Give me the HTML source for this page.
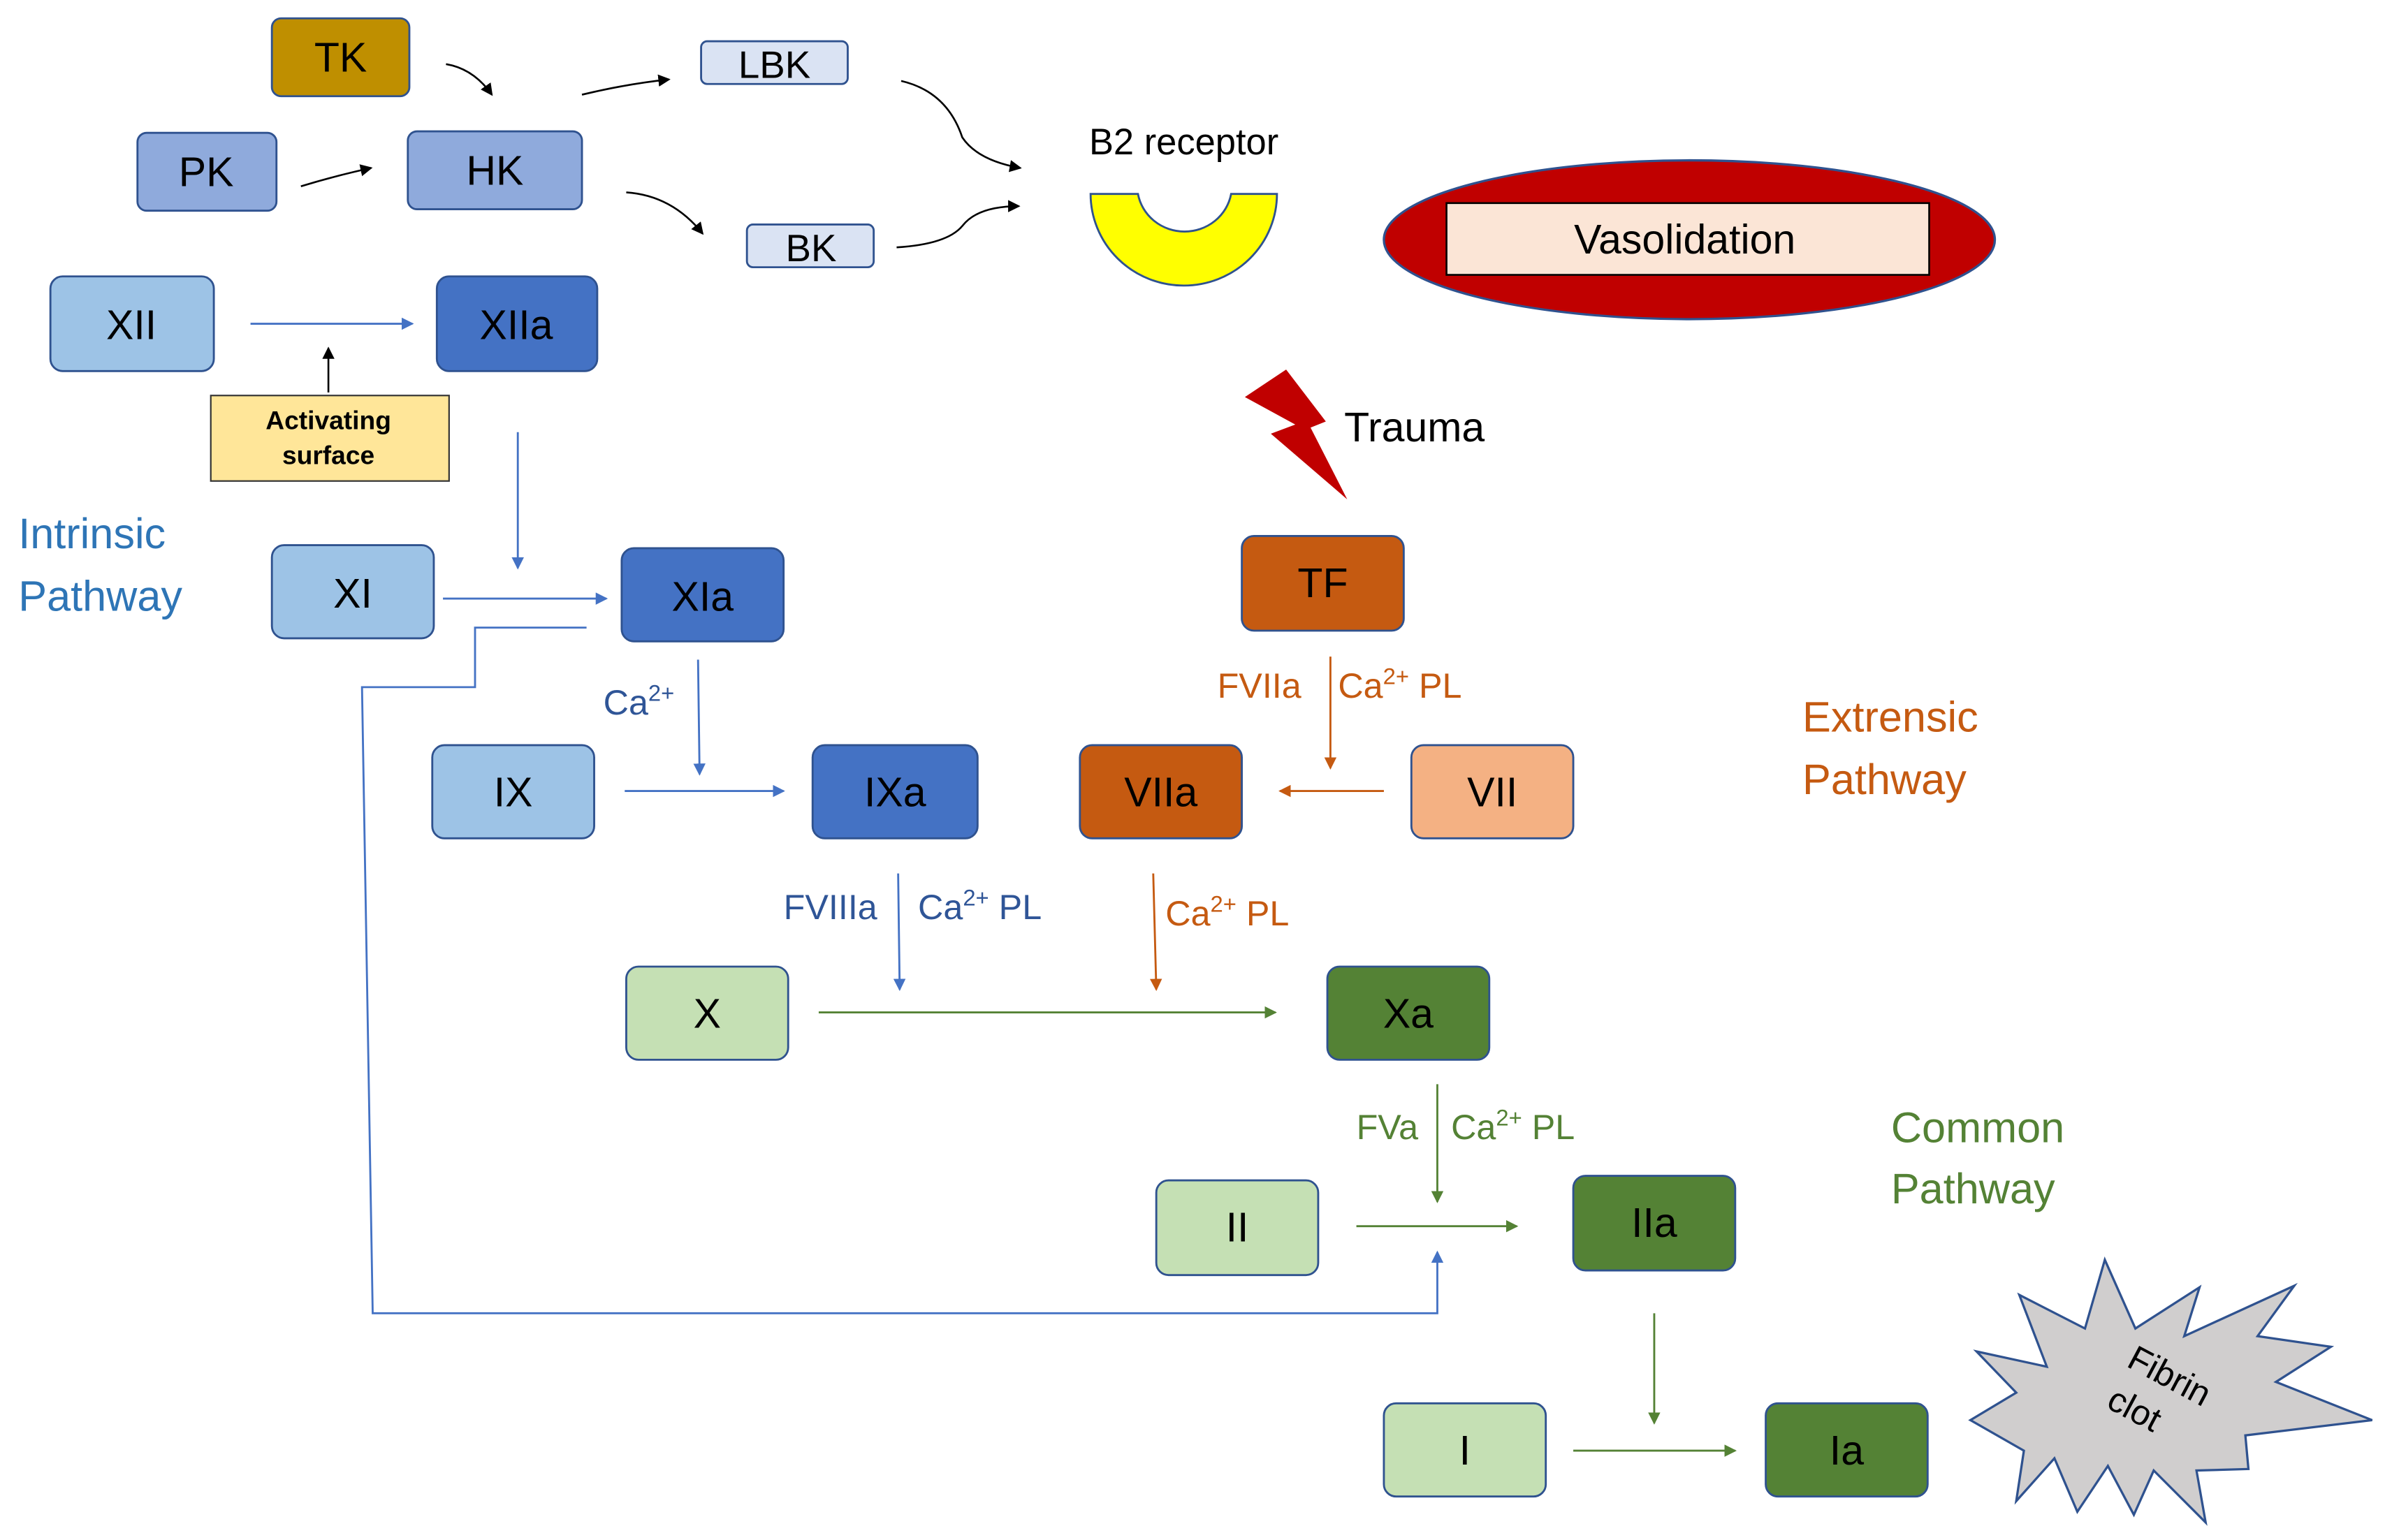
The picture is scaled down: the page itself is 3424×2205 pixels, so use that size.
<!DOCTYPE html>
<html><head><meta charset="utf-8"><style>html,body{margin:0;padding:0;background:#fff}svg{display:block}</style></head>
<body>
<svg width="3424" height="2205" viewBox="0 0 1566 1008.5" preserveAspectRatio="none" xmlns="http://www.w3.org/2000/svg" font-family="Liberation Sans, sans-serif">
<defs>
<marker id="ab" markerWidth="8" markerHeight="8" refX="7" refY="4" orient="auto" markerUnits="userSpaceOnUse"><path d="M0,0L8,4L0,8z" fill="#4472C4"/></marker>
<marker id="ak" markerWidth="8" markerHeight="8" refX="7" refY="4" orient="auto" markerUnits="userSpaceOnUse"><path d="M0,0L8,4L0,8z" fill="#000"/></marker>
<marker id="ao" markerWidth="8" markerHeight="8" refX="7" refY="4" orient="auto" markerUnits="userSpaceOnUse"><path d="M0,0L8,4L0,8z" fill="#C55A11"/></marker>
<marker id="ag" markerWidth="8" markerHeight="8" refX="7" refY="4" orient="auto" markerUnits="userSpaceOnUse"><path d="M0,0L8,4L0,8z" fill="#548235"/></marker>
</defs>
<g stroke="#2F528F" stroke-width="1.3">
<rect x="178" y="12" width="90" height="51" rx="6" fill="#BF8F00"/>
<rect x="90" y="87" width="91" height="51" rx="6" fill="#8FAADC"/>
<rect x="267" y="86" width="114" height="51" rx="6" fill="#8FAADC"/>
<rect x="459" y="27" width="96" height="28" rx="4" fill="#DAE3F3"/>
<rect x="489" y="147" width="83" height="28" rx="4" fill="#DAE3F3"/>
<rect x="33" y="181" width="107" height="62" rx="8" fill="#9DC3E6"/>
<rect x="286" y="181" width="105" height="62" rx="8" fill="#4472C4"/>
<rect x="178" y="357" width="106" height="61" rx="8" fill="#9DC3E6"/>
<rect x="407" y="359" width="106" height="61" rx="8" fill="#4472C4"/>
<rect x="283" y="488" width="106" height="61" rx="8" fill="#9DC3E6"/>
<rect x="532" y="488" width="108" height="61" rx="8" fill="#4472C4"/>
<rect x="813" y="351" width="106" height="62" rx="8" fill="#C55A11"/>
<rect x="707" y="488" width="106" height="61" rx="8" fill="#C55A11"/>
<rect x="924" y="488" width="106" height="61" rx="8" fill="#F4B183"/>
<rect x="410" y="633" width="106" height="61" rx="8" fill="#C5E0B4"/>
<rect x="869" y="633" width="106" height="61" rx="8" fill="#548235"/>
<rect x="757" y="773" width="106" height="62" rx="8" fill="#C5E0B4"/>
<rect x="1030" y="770" width="106" height="62" rx="8" fill="#548235"/>
<rect x="906" y="919" width="106" height="61" rx="8" fill="#C5E0B4"/>
<rect x="1156" y="919" width="106" height="61" rx="8" fill="#548235"/>
</g>
<rect x="138" y="259" width="156" height="56" fill="#FFE699" stroke="#333" stroke-width="1"/>
<text x="215" y="281" font-size="17" font-weight="bold" text-anchor="middle">Activating</text>
<text x="215" y="304" font-size="17" font-weight="bold" text-anchor="middle">surface</text>
<g font-size="27" text-anchor="middle" fill="#000">
<text x="223" y="47">TK</text><text x="135" y="122">PK</text><text x="324" y="121">HK</text>
<text x="507" y="51" font-size="25">LBK</text><text x="531" y="171" font-size="25">BK</text>
<text x="86" y="222">XII</text><text x="338" y="222">XIIa</text>
<text x="231" y="398">XI</text><text x="460" y="400">XIa</text>
<text x="336" y="528">IX</text><text x="586" y="528">IXa</text>
<text x="866" y="391">TF</text><text x="760" y="528">VIIa</text><text x="977" y="528">VII</text>
<text x="463" y="673">X</text><text x="922" y="673">Xa</text>
<text x="810" y="813">II</text><text x="1083" y="810">IIa</text>
<text x="959" y="959">I</text><text x="1209" y="959">Ia</text>
</g>
<text x="713" y="101" font-size="24">B2 receptor</text>
<path d="M714,127 A61,60 0 0 0 836,127 L806,127 A31,30 0 0 1 745,127 Z" fill="#FFFF00" stroke="#2F528F" stroke-width="1.3"/>
<ellipse cx="1106" cy="157" rx="200" ry="52" fill="#C00000" stroke="#2F528F" stroke-width="1.5"/>
<rect x="947" y="133" width="316" height="47" fill="#FBE5D6" stroke="#000" stroke-width="1.2"/>
<text x="1103" y="166" font-size="27" text-anchor="middle">Vasolidation</text>
<path d="M842,242 L815,260 L848,278 L832,284 L882,327 L858,280 L868,276 Z" fill="#C00000"/>
<text x="880" y="289" font-size="27">Trauma</text>
<g font-size="28" fill="#2E75B6"><text x="12" y="359">Intrinsic</text><text x="12" y="400">Pathway</text></g>
<g font-size="28" fill="#C55A11"><text x="1180" y="479">Extrensic</text><text x="1180" y="520">Pathway</text></g>
<g font-size="28" fill="#548235"><text x="1238" y="748">Common</text><text x="1238" y="788">Pathway</text></g>
<g fill="none" stroke="#000" stroke-width="1.2" marker-end="url(#ak)">
<path d="M292,42 Q310,45 322,62"/><path d="M381,62 Q410,55 438,52"/><path d="M197,122 Q220,115 243,110"/>
<path d="M410,126 Q440,128 460,153"/><path d="M590,53 Q620,60 630,90 Q640,105 668,110"/><path d="M587,162 Q620,160 630,148 Q640,135 667,135"/>
<path d="M215,257 L215,228"/>
</g>
<g fill="none" stroke="#4472C4" stroke-width="1.3" marker-end="url(#ab)">
<path d="M164,212 L270,212"/><path d="M339,283 L339,372"/><path d="M290,392 L397,392"/>
<path d="M457,432 L458,507"/><path d="M409,518 L513,518"/><path d="M588,572 L589,648"/>
<path d="M384,411 L311,411 L311,450 L237,450 L244,860 L941,860 L941,820"/>
</g>
<g fill="none" stroke="#C55A11" stroke-width="1.3" marker-end="url(#ao)">
<path d="M871,430 L871,503"/><path d="M906,518 L838,518"/><path d="M755,572 L757,648"/>
</g>
<g fill="none" stroke="#548235" stroke-width="1.3" marker-end="url(#ag)">
<path d="M536,663 L835,663"/><path d="M941,710 L941,787"/><path d="M888,803 L993,803"/>
<path d="M1083,860 L1083,932"/><path d="M1030,950 L1136,950"/>
</g>
<g font-size="23">
<text x="395" y="468" fill="#2F5597">Ca<tspan font-size="15" dy="-9">2+</tspan></text>
<text x="513" y="602" fill="#2F5597">FVIIIa</text>
<text x="601" y="602" fill="#2F5597">Ca<tspan font-size="15" dy="-9">2+</tspan><tspan dy="9"> PL</tspan></text>
<text x="797" y="457" fill="#C55A11">FVIIa</text>
<text x="876" y="457" fill="#C55A11">Ca<tspan font-size="15" dy="-9">2+</tspan><tspan dy="9"> PL</tspan></text>
<text x="763" y="606" fill="#C55A11">Ca<tspan font-size="15" dy="-9">2+</tspan><tspan dy="9"> PL</tspan></text>
<text x="888" y="746" fill="#548235">FVa</text>
<text x="950" y="746" fill="#548235">Ca<tspan font-size="15" dy="-9">2+</tspan><tspan dy="9"> PL</tspan></text>
</g>
<path d="M1378,825 L1398,870 L1440,843 L1430,875 L1502,842 L1478,875 L1526,882 L1490,905 L1553,930 L1470,940 L1472,962 L1438,963 L1444,997 L1410,963 L1397,992 L1380,960 L1360,990 L1345,955 L1320,983 L1325,950 L1290,930 L1320,912 L1294,885 L1340,895 L1322,848 L1365,870 Z" fill="#D0CECE" stroke="#2F528F" stroke-width="1.5"/>
<g transform="translate(1410,910) rotate(28)" font-size="23" text-anchor="middle"><text x="5" y="-5">Fibrin</text><text x="-5" y="25">clot</text></g>
</svg>
</body></html>
